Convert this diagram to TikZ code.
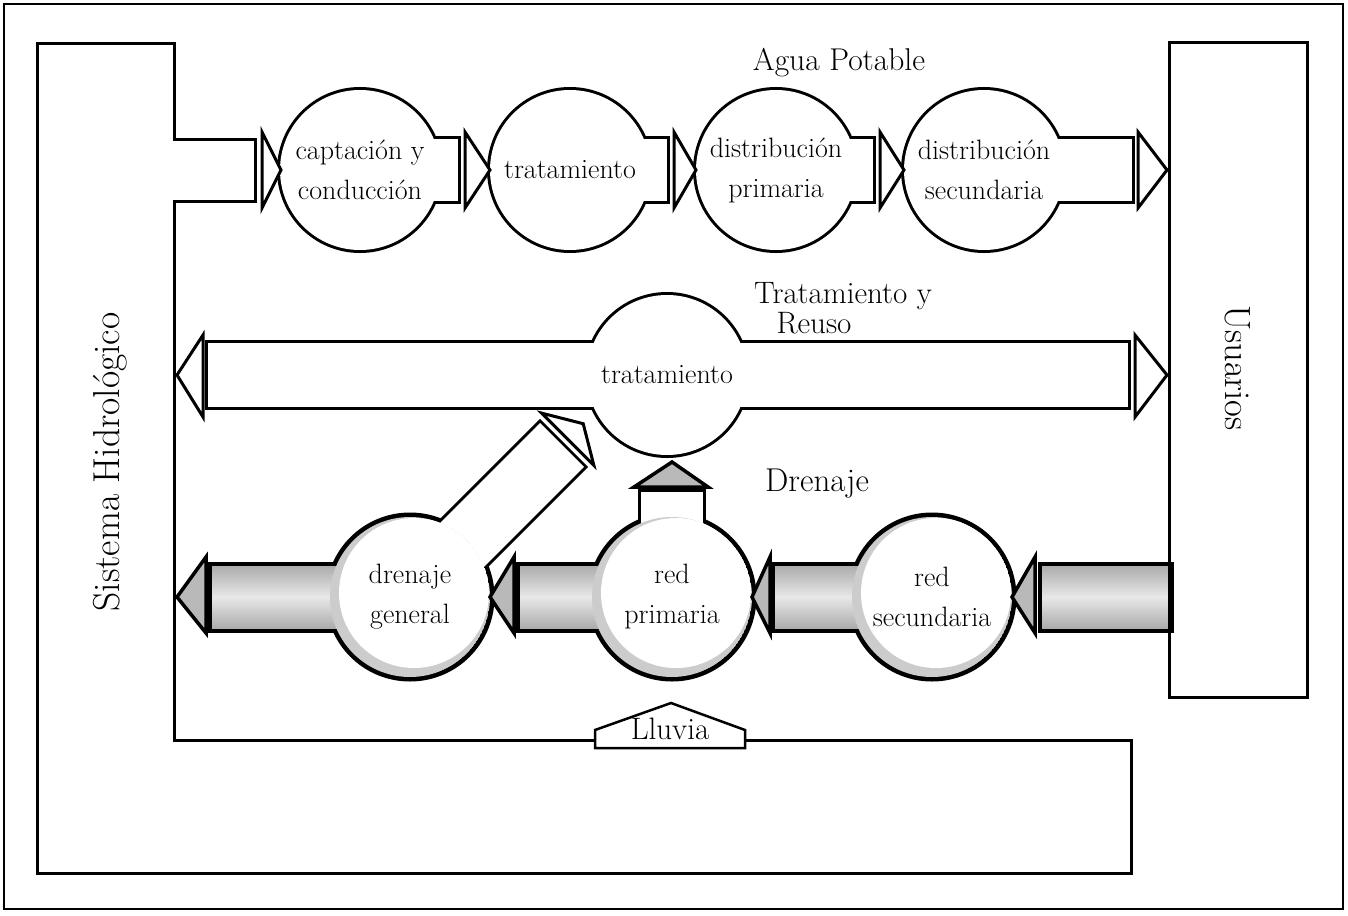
\documentclass[tikz,border=0pt]{standalone}
\usetikzlibrary{calc}
\begin{document}
\begin{tikzpicture}[x=1pt,y=-1pt,
  ctext/.style={font=\fontsize{28}{40}\selectfont, align=center, inner sep=0pt},
  lbl/.style={font=\fontsize{31}{34}\selectfont, inner sep=0pt},
  biglbl/.style={font=\fontsize{37}{40}\selectfont, inner sep=0pt},
  box/.style={draw=black, line width=3pt, fill=white, line join=miter},
  tri/.style={draw=black, line width=3pt, fill=white, line join=miter},
  dtri/.style={draw=black, line width=3.5pt, fill=gray!55, line join=miter},
  thickout/.style={line width=6pt},
  drainout/.style={line width=9pt},
  graypipe/.style={top color=gray!65, bottom color=gray!65, middle color=gray!18}
]
\useasboundingbox (0,0) rectangle (1348,915);
% outer frame
\draw[line width=2pt] (4,4) rectangle (1343,909);

% named centres
\coordinate (c1) at (360,170);
\coordinate (c2) at (570,170);
\coordinate (c3) at (776,170);
\coordinate (c4) at (984,170);
\coordinate (tm) at (667,375);
\coordinate (d1) at (410,597);
\coordinate (d2) at (672,597);
\coordinate (d3) at (932,597);

% Sistema Hidrologico
\draw[box] (37,44) -- (174,44) -- (174,139) -- (255,139) -- (255,201) -- (174,201)
  -- (174,740) -- (1131,740) -- (1131,873) -- (37,873) -- cycle;
% Usuarios
\draw[box] (1169,43) rectangle (1307,697);

% ---------- Agua potable row ----------
\foreach \cx/\pe in {360/458, 570/667, 776/873, 984/1132}{
  \draw[thickout] (\cx,170) circle[radius=80pt];
  \draw[thickout] (\cx,139) rectangle (\pe,201);
}
\foreach \cx/\pe in {360/458, 570/667, 776/873, 984/1132}{
  \fill[white] (\cx,139) rectangle (\pe,201);
  \fill[white] (\cx,170) circle[radius=80pt];
}
\draw[tri] (262,132) -- (281,170) -- (262,208) -- cycle;
\draw[tri] (465,132) -- (490,170) -- (465,208) -- cycle;
\draw[tri] (674,132) -- (696,170) -- (674,208) -- cycle;
\draw[tri] (880,132) -- (904,170) -- (880,208) -- cycle;
\draw[tri] (1138,132) -- (1167,170) -- (1138,208) -- cycle;

% ---------- Tratamiento y reuso row ----------
\draw[thickout] (tm) circle[radius=80pt];
\draw[thickout] (208,343) rectangle (1128,407);
\fill[white] (208,343) rectangle (1128,407);
\fill[white] (tm) circle[radius=80pt];
\draw[tri] (203,335) -- (177,375) -- (203,417) -- cycle;
\draw[tri] (1135,335) -- (1167,375) -- (1135,417) -- cycle;

% ---------- Drenaje row ----------
% outlines
\draw[drainout] (d1) circle[radius=80pt];
\draw[drainout] (d2) circle[radius=80pt];
\draw[drainout] (d3) circle[radius=80pt];
\draw[drainout] (212,566) rectangle (410,628);
\draw[drainout] (520,566) rectangle (672,628);
\draw[drainout] (775,566) rectangle (932,628);
\draw[drainout] (1042,566) rectangle (1169,628);
\draw[thickout] (388.1,575.1) -- (540.1,423.1) -- (583.9,466.9) -- (431.9,618.9) -- cycle;
\draw[thickout] (641,492) rectangle (703,597);
% fills
\shade[graypipe] (212,566) rectangle (410,628);
\shade[graypipe] (520,566) rectangle (672,628);
\shade[graypipe] (775,566) rectangle (932,628);
\shade[graypipe] (1042,566) rectangle (1169,628);
\fill[white] (388.1,575.1) -- (540.1,423.1) -- (583.9,466.9) -- (431.9,618.9) -- cycle;
\fill[white] (641,492) rectangle (703,597);
\foreach \c in {d1,d2,d3}{
  \begin{scope}
    \clip (\c) circle[radius=80pt];
    \fill[gray!40] (\c) circle[radius=80pt];
    \fill[white] ($(\c)+(4,-4)$) circle[radius=75pt];
  \end{scope}
}
\draw[line width=3pt] (1169,560) -- (1169,634);
% arrows
\draw[dtri] (1035,557) -- (1012,597) -- (1035,633) -- cycle;
\draw[dtri] (770,557) -- (752,597) -- (770,633) -- cycle;
\draw[dtri] (514,557) -- (490,597) -- (514,633) -- cycle;
\draw[dtri] (206,557) -- (177,597) -- (206,633) -- cycle;
\draw[dtri] (634,487) -- (672,462) -- (708,487) -- cycle;
\draw[tri] (541.5,413.1) -- (583.2,423.7) -- (593.9,465.5) -- cycle;

% Lluvia
\draw[line width=2.5pt, fill=white, line join=miter] (595,748) -- (595,730) -- (671,703)
  -- (745,730) -- (745,748) -- cycle;

% ---------- texts ----------
\node[ctext] (t1) at (c1) {captación y\\conducción};
\node[ctext] (t2) at (c2) {tratamiento};
\node[ctext] (t3) at (c3) {distribución\\primaria};
\node[ctext] (t4) at (c4) {distribución\\secundaria};
\node[ctext] (t5) at (tm) {tratamiento};
\node[ctext] (t6) at (d1) {drenaje\\general};
\node[ctext] (t7) at (d2) {red\\primaria};
\node[ctext] (t8) at (d3) {red\\secundaria};
\node[lbl, font=\fontsize{31.5}{34}\selectfont] (agua) at (839,63) {Agua Potable};
\node[lbl] (trat1) at (843,296) {Tratamiento y};
\node[lbl] (trat2) at (814,323) {Reuso};
\node[lbl, font=\fontsize{33}{36}\selectfont] (dren) at (817,484) {Drenaje};
\node[lbl] (lluvia) at (670,729) {Lluvia};
\node[biglbl, font=\fontsize{36.5}{40}\selectfont, rotate=-90] (usu) at (1238,368) {Usuarios};
\node[biglbl, font=\fontsize{37.5}{40}\selectfont, rotate=90] (sis) at (110,462) {Sistema Hidrológico};
\end{tikzpicture}
\end{document}
